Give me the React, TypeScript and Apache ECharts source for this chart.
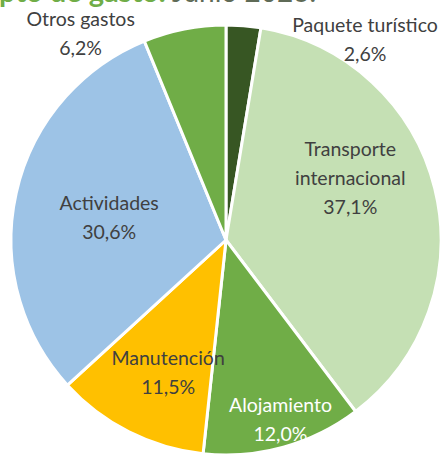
import React, { useEffect, useRef } from "react";
import * as echarts from "echarts";

const categories = [
  "Paquete turístico",
  "Transporte\ninternacional",
  "Alojamiento",
  "Manutención",
  "Actividades",
  "Otros gastos",
];
const values = [2.6, 37.1, 12.0, 11.5, 30.6, 6.2];
const colors = ["#375623", "#C5E0B4", "#70AD47", "#FFC000", "#9DC3E6", "#70AD47"];
const titleBold = "pto de gasto.";
const titleRest = " Junio 2023.";

export default function App() {
  const ref = useRef<HTMLDivElement>(null);
  useEffect(() => {
    document.body.style.margin = "0";
    const chart = echarts.init(ref.current!, null, { renderer: "svg" });
    const labelShift = [
      [130, -91],
      [17, -36],
      [25, 73],
      [-8, 33],
      [-9, 1],
      [-124, -99],
    ];
    const font = "Lato, 'Open Sans', sans-serif";
    chart.setOption({
      animation: false,
      graphic: [
        {
          type: "text",
          left: -1,
          top: -24,
          style: {
            text: "{b|" + titleBold + "}{r|" + titleRest + "}",
            rich: {
              b: { fontFamily: font, fontSize: 29, fontWeight: "bold", fill: "#70AD47" },
              r: { fontFamily: font, fontSize: 28, fill: "#5F6B57" },
            },
          },
        },
      ],
      series: [
        {
          type: "pie",
          center: [226, 240],
          radius: [0, 215],
          startAngle: 90,
          clockwise: true,
          avoidLabelOverlap: false,
          itemStyle: { borderColor: "#ffffff", borderWidth: 3 },
          label: {
            show: true,
            position: "inside",
            fontFamily: font,
            fontSize: 19.5,
            lineHeight: 29,
            color: "#404040",
            formatter: (p: any) => p.name + "\n" + p.value.toFixed(1).replace(".", ",") + "%",
          },
          labelLine: { show: false },
          labelLayout: (p: any) => ({ dx: labelShift[p.dataIndex][0], dy: labelShift[p.dataIndex][1] }),
          data: categories.map((c, i) => ({
            name: c,
            value: values[i],
            itemStyle: { color: colors[i] },
            label: i === 2 ? { color: "#ffffff" } : undefined,
          })),
        },
      ],
    });
    return () => chart.dispose();
  }, []);
  return <div ref={ref} style={{ width: 441, height: 457 }} />;
}
